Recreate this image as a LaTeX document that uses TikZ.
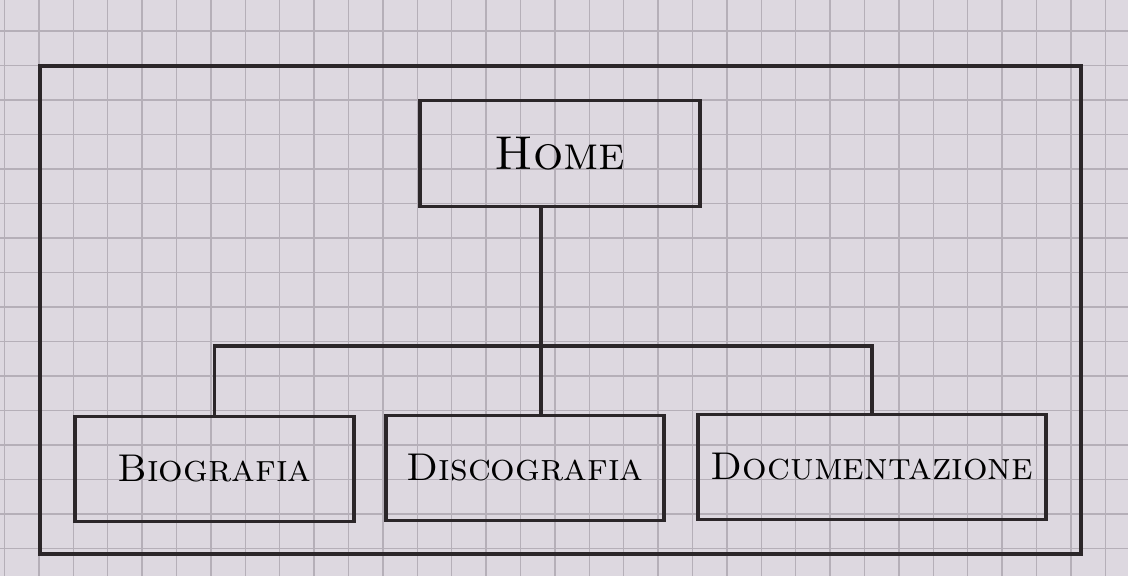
\documentclass[tikz,border=0pt]{standalone}
\usepackage{tikz}
\definecolor{PaperBG}{HTML}{DDD8E0}
\definecolor{GridGrey}{HTML}{B5AFB8}
\definecolor{InkDark}{HTML}{2B2629}
\begin{document}
\begin{tikzpicture}[
    x=0.01cm,y=-0.01cm,
    page/.style={draw=InkDark,line width=1pt,inner sep=0pt,minimum height=1.05cm,font=\fontsize{11}{13}\selectfont},
    paperline/.style={GridGrey,line width=0.4pt},
    ink/.style={InkDark,line width=0.9pt},
  ]
  % Squared paper
  \fill[PaperBG] (0,0) rectangle (1128,576);
  \useasboundingbox (0,0) rectangle (1128,576);
  \foreach \gx in {4.5,38.9,...,1128} \draw[paperline] (\gx,0) -- (\gx,576);
  \foreach \gy in {31,65.5,...,576} \draw[paperline] (0,\gy) -- (1128,\gy);
  % Outer frame
  \draw[ink] (40,66) rectangle (1081,554);
  % Pages of the site
  \node[page,minimum width=2.8cm,minimum height=1.06cm,font=\fontsize{13.5}{16}\selectfont] (home) at (560,153.5) {\textsc{Home}};
  \node[page,minimum width=2.79cm] (bio) at (214.5,469) {\textsc{Biografia}};
  \node[page,minimum width=2.78cm] (disco) at (525,468) {\textsc{Discografia}};
  \node[page,minimum width=3.48cm] (doc) at (872,467) {\textsc{Documentazione}};
  % Links from the home page
  \coordinate (bus) at (541,346);
  \draw[ink] (home.south -| bus) -- (disco.north -| bus);
  \draw[ink] (bio.north) |- (bus) -| (doc.north);
\end{tikzpicture}
\end{document}
